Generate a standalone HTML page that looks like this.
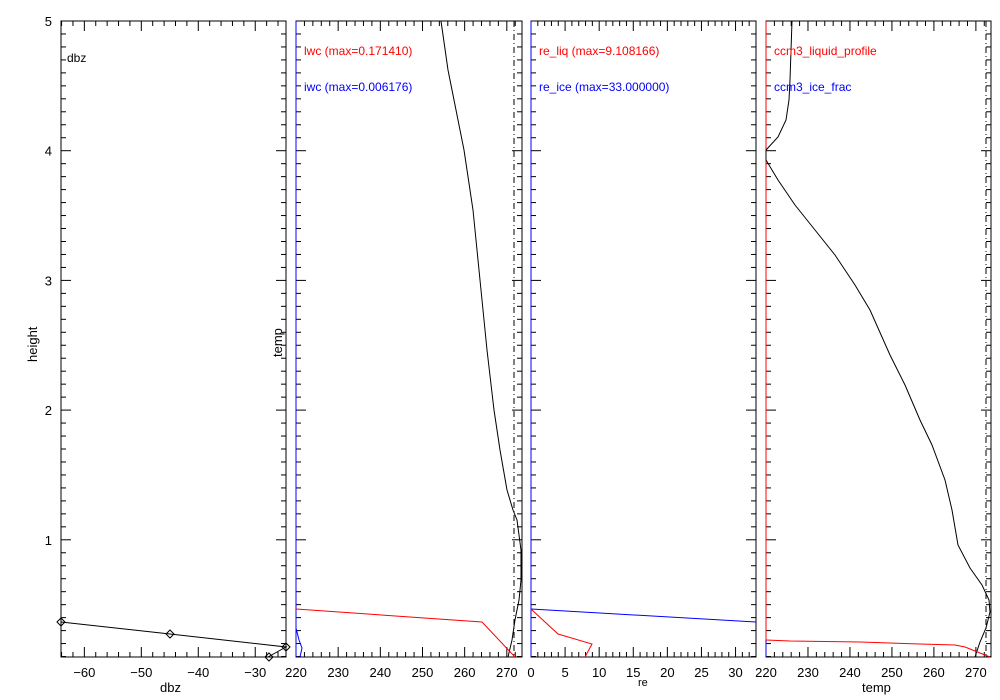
<!DOCTYPE html>
<html><head><meta charset="utf-8"><style>
html,body{margin:0;padding:0;background:#fff;}
svg{display:block;font-family:"Liberation Sans",sans-serif;}
</style></head><body>
<svg id="s" width="1000" height="700" xmlns="http://www.w3.org/2000/svg">
<g fill="none" stroke-width="1" id="g"></g>
<g font-size="12">
<text x="67" y="62">dbz</text>
<text x="304" y="55" fill="#f00">lwc (max=0.171410)</text>
<text x="304" y="91" fill="#00f">iwc (max=0.006176)</text>
<text x="539" y="55" fill="#f00">re_liq (max=9.108166)</text>
<text x="539" y="91" fill="#00f">re_ice (max=33.000000)</text>
<text x="774" y="55" fill="#f00">ccm3_liquid_profile</text>
<text x="774" y="91" fill="#00f">ccm3_ice_frac</text>
<text x="160" y="692" font-size="13">dbz</text>
<text x="638" y="686" font-size="11">re</text>
<text x="862" y="692" font-size="13">temp</text>
<text transform="translate(37,362) rotate(-90)" font-size="13">height</text>
<text transform="translate(282,357) rotate(-90)" font-size="13">temp</text>
</g>
</svg>
<script>
var g=document.getElementById('g'),s=document.getElementById('s'),NS="http://www.w3.org/2000/svg";
function el(t,a,p){var e=document.createElementNS(NS,t);for(var k in a)e.setAttribute(k,a[k]);(p||g).appendChild(e);return e;}
function line(x1,y1,x2,y2,c,d){el('line',{x1:x1,y1:y1,x2:x2,y2:y2,stroke:c||'#000','stroke-dasharray':d||''});}
function txt(x,y,t,anchor){var e=el('text',{x:x,y:y,'font-size':13,'text-anchor':anchor||'middle'},s);e.textContent=t;}
function pl(pts,c,dash){el('polyline',{points:pts,stroke:c||'#000','stroke-dasharray':dash||''});}
var T=21,B=657;
function Y(h){return T+(5-h)*129.7;}
var P=[[61,286,-64.1,-24.6,10,2,[-60,-50,-40,-30]],[296,522,220,273.6,10,2,[220,230,240,250,260,270]],[531,756,0,33,5,1,[0,5,10,15,20,25,30]],[766,991,220,273.6,10,2,[220,230,240,250,260,270]]];
P.forEach(function(p,i){
 var L=p[0],R=p[1];
 el('rect',{x:L,y:T,width:R-L,height:B-T,stroke:'#000'});
 function X(v){return L+(v-p[2])/(p[3]-p[2])*(R-L);}
 var st=p[5];
 for(var v=Math.ceil(p[2]/st)*st;v<=p[3];v+=st){
  var x=X(v),maj=Math.abs(v/p[4]-Math.round(v/p[4]))<1e-6,len=maj?10:5;
  line(x,B,x,B-len);line(x,T,x,T+len);
 }
 p[6].forEach(function(v){txt(X(v),677,(v<0?'\u2212'+(-v):''+v));});
 for(var k=1;k<=50;k++){var h=k/10,y=Y(h);if(y>B)continue;var maj=(k%10==0),len=maj?10:5;
  line(L,y,L+len,y);line(R,y,R-len,y);}
});
[1,2,3,4,5].forEach(function(h){txt(52,Y(h)+5,''+h,'end');});
// panel1
pl("61,622 170,634 286,647 268,657");
[[61,622],[170,634],[286,647],[269,657]].forEach(function(q){el('polygon',{points:(q[0]-4)+','+q[1]+' '+q[0]+','+(q[1]-4)+' '+(q[0]+4)+','+q[1]+' '+q[0]+','+(q[1]+4),stroke:'#000'});});
// panel2
line(296,T,296,B,'#00f');
pl("441,21 448,70 458,120 464,150 470,190 473,210 480,280 485,330 487,350 494,410 500,450 507,490 513,510 517,520 521,550 521,580 519,600 515,620 512,640 508,657");
line(514,T,514,B,'#000','6,3,1,3');
pl("296,609 482,622 515,657",'#f00');
pl("296,628 299,640 302,648 300,657",'#00f');
// panel3
line(531,T,531,B,'#00f');
pl("531,609 756,622",'#00f');
pl("531,609 558,634 592,644 585,657",'#f00');
// panel4
line(766,T,766,B,'#f00');
line(766,640,766,657,'#00f');
pl("792,21 790,80 789,100 786,120 778,137 766,150 766,160 778,180 795,205 815,230 835,255 855,285 870,310 890,355 905,385 920,420 932,445 945,480 952,510 958,545 970,568 982,585 989,600 990,612 986,628 980,642 975,657");
line(986,T,986,B,'#000','6,3,1,3');
pl("766,640 790,641 860,642 920,644 955,645 965,647 990,657",'#f00');
</script>
</body></html>
